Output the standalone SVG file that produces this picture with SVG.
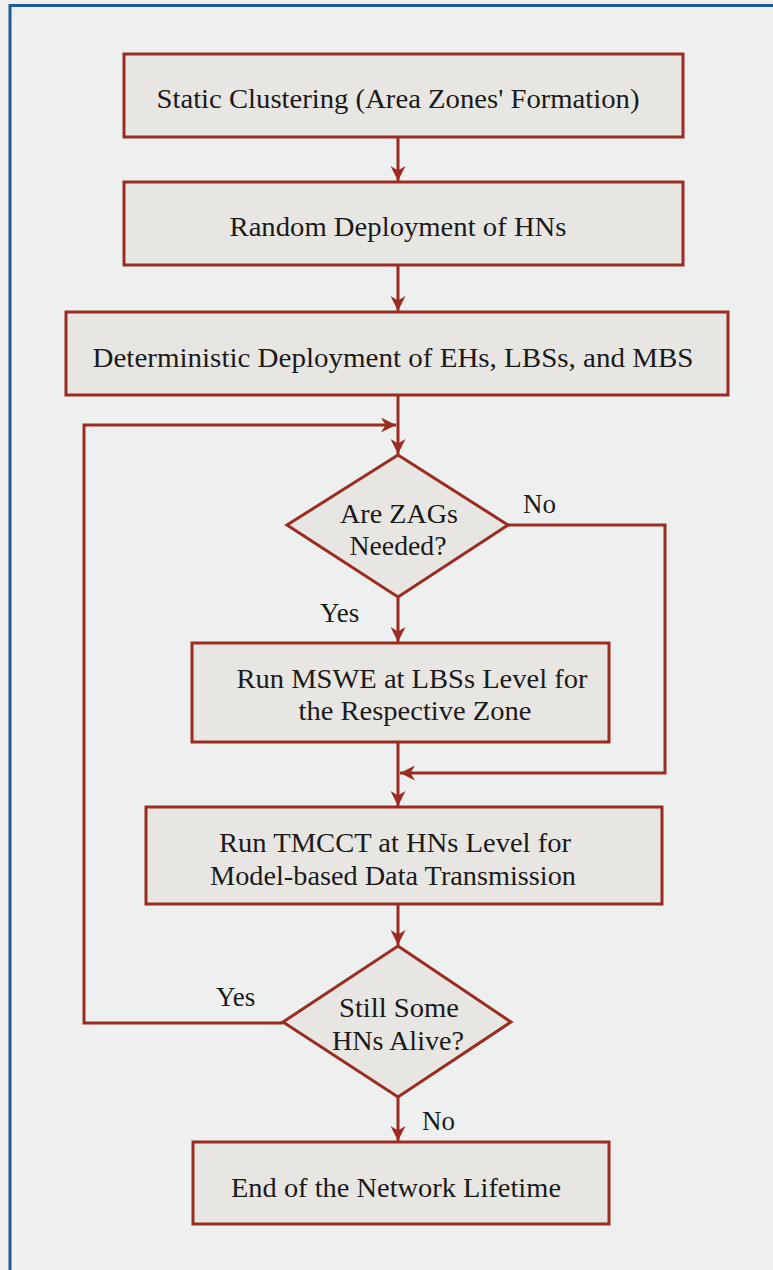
<svg xmlns="http://www.w3.org/2000/svg" width="773" height="1270" viewBox="0 0 773 1270">
<defs>
<style>
.bg{fill:#eef0ef}
.frame{fill:none;stroke:#1f5a95;stroke-width:3}
.box{fill:#e8e6e2;stroke:#9a2c22;stroke-width:3}
.con{fill:none;stroke:#9a2c22;stroke-width:3}
.t{font-family:"Liberation Serif","Times New Roman",serif;font-size:27px;fill:#1a1a1a;text-anchor:middle}
.lbl{font-family:"Liberation Serif","Times New Roman",serif;font-size:27px;fill:#1a1a1a}
</style>
<marker id="ah" viewBox="0 0 10 10" refX="10" refY="5" markerWidth="5" markerHeight="5" markerUnits="strokeWidth" orient="auto">
<path d="M0,0 L10,5 L0,10 L3,5 z" fill="#9a2c22"/>
</marker>
</defs>
<rect class="bg" x="0" y="0" width="773" height="1270"/>
<rect class="frame" x="10" y="5.5" width="800" height="1300"/>

<g id="connectors">
<line class="con" x1="398" y1="137" x2="398" y2="181" marker-end="url(#ah)"/>
<line class="con" x1="398" y1="265" x2="398" y2="311" marker-end="url(#ah)"/>
<line class="con" x1="398" y1="395" x2="398" y2="454" marker-end="url(#ah)"/>
<polyline class="con" points="283,1023 84,1023 84,425 396,425" marker-end="url(#ah)"/>
<line class="con" x1="398" y1="597" x2="398" y2="642" marker-end="url(#ah)"/>
<polyline class="con" points="508,525 665,525 665,773 400,773" marker-end="url(#ah)"/>
<line class="con" x1="398" y1="742" x2="398" y2="806" marker-end="url(#ah)"/>
<line class="con" x1="398" y1="904" x2="398" y2="945" marker-end="url(#ah)"/>
<line class="con" x1="398" y1="1097" x2="398" y2="1141" marker-end="url(#ah)"/>
<text class="lbl" x="523" y="513">No</text>
<text class="lbl" x="320" y="622">Yes</text>
<text class="lbl" x="216" y="1006">Yes</text>
<text class="lbl" x="422" y="1130">No</text>
</g>

<g id="n1">
<rect class="box" x="124" y="54" width="559" height="83"/>
<text class="t" x="398" y="108" textLength="483" lengthAdjust="spacingAndGlyphs">Static Clustering (Area Zones' Formation)</text>
</g>
<g id="n2">
<rect class="box" x="124" y="182" width="559" height="83"/>
<text class="t" x="398" y="236" textLength="337" lengthAdjust="spacingAndGlyphs">Random Deployment of HNs</text>
</g>
<g id="n3">
<rect class="box" x="66" y="312" width="662" height="83"/>
<text class="t" x="393" y="367" textLength="601" lengthAdjust="spacingAndGlyphs">Deterministic Deployment of EHs, LBSs, and MBS</text>
</g>
<g id="n4">
<polygon class="box" points="398,455 508,525 398,597 287,525"/>
<text class="t" x="399" y="523" textLength="118" lengthAdjust="spacingAndGlyphs">Are ZAGs</text>
<text class="t" x="398" y="555" textLength="97" lengthAdjust="spacingAndGlyphs">Needed?</text>
</g>
<g id="n5">
<rect class="box" x="192" y="643" width="417" height="99"/>
<text class="t" x="412" y="688" textLength="351" lengthAdjust="spacingAndGlyphs">Run MSWE at LBSs Level for</text>
<text class="t" x="415" y="720" textLength="233" lengthAdjust="spacingAndGlyphs">the Respective Zone</text>
</g>
<g id="n6">
<rect class="box" x="146" y="807" width="516" height="97"/>
<text class="t" x="395" y="852" textLength="352" lengthAdjust="spacingAndGlyphs">Run TMCCT at HNs Level for</text>
<text class="t" x="393" y="885" textLength="366" lengthAdjust="spacingAndGlyphs">Model-based Data Transmission</text>
</g>
<g id="n7">
<polygon class="box" points="398,946 511,1022 398,1097 283,1022"/>
<text class="t" x="399" y="1017" textLength="120" lengthAdjust="spacingAndGlyphs">Still Some</text>
<text class="t" x="398" y="1050" textLength="132" lengthAdjust="spacingAndGlyphs">HNs Alive?</text>
</g>
<g id="n8">
<rect class="box" x="193" y="1142" width="416" height="82"/>
<text class="t" x="396" y="1197" textLength="330" lengthAdjust="spacingAndGlyphs">End of the Network Lifetime</text>
</g>
</svg>
